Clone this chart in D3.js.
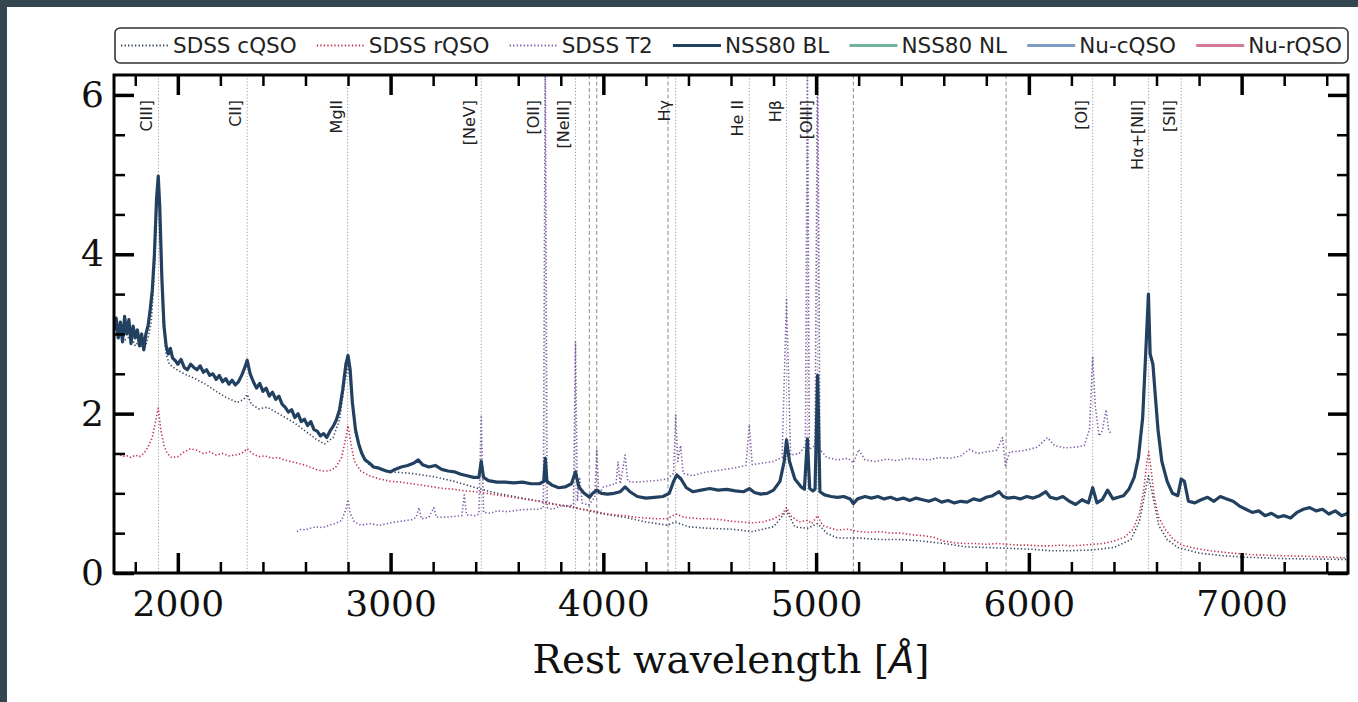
<!DOCTYPE html>
<html><head><meta charset="utf-8">
<script src="https://cdn.jsdelivr.net/npm/d3@7"></script>
<style>
html,body{margin:0;padding:0;background:#34464f;}
svg{display:block}
</style></head>
<body>
<svg id="chart" width="1358" height="702"></svg>
<script>
// ---------------- DATA ----------------
const xTickValues = [2000, 3000, 4000, 5000, 6000, 7000];
const yTickValues = [0, 2, 4, 6];
const xLabelParts = ["Rest wavelength [", "\u00C5", "]"];

const seriesNames = ["SDSS cQSO", "SDSS rQSO", "SDSS T2", "NSS80 BL", "NSS80 NL", "Nu-cQSO", "Nu-rQSO"];

// emission lines (dotted guides) and labels
const emissionWaves  = [1909, 2326, 2798, 3426, 3727, 3869, 4340, 4686, 4861, 4959, 5007, 6300, 6563, 6716];
const labelWaves     = [1909, 2326, 2798, 3426, 3727, 3869, 4340, 4686, 4861, 5007, 6300, 6563, 6716];
const labelTexts     = ["CIII]", "CII]", "MgII", "[NeV]", "[OII]", "[NeIII]", "H\u03B3", "He II", "H\u03B2", "[OIII]", "[OI]", "H\u03B1+[NII]", "[SII]"];
// absorption lines (dashed guides)
const absorptionWaves = [3934, 3969, 4304, 5175, 5893];

// SDSS cQSO composite
const sdssCQSO = [
[1700,2.95],[1720,3.02],[1750,2.92],[1780,2.98],[1800,2.85],[1820,2.92],[1840,2.78],[1860,2.95],[1875,3.15],[1890,3.80],[1900,4.50],[1908,4.90],[1918,4.30],[1930,3.20],[1945,2.75],[1960,2.62],[1990,2.56],
[2030,2.50],[2080,2.44],[2130,2.37],[2180,2.28],[2230,2.20],[2280,2.14],[2310,2.18],[2326,2.24],[2345,2.12],[2380,2.06],[2420,2.08],[2460,2.02],[2500,1.96],[2550,1.88],
[2600,1.78],[2650,1.68],[2690,1.62],[2730,1.70],[2760,1.92],[2785,2.40],[2800,2.62],[2815,2.30],[2835,1.75],[2860,1.50],[2890,1.38],[2930,1.32],[3000,1.27],
[3100,1.25],[3200,1.21],[3300,1.15],[3400,1.07],[3500,1.00],[3600,0.95],[3700,0.90],[3800,0.85],[3900,0.80],[4000,0.74],[4100,0.70],[4200,0.64],[4300,0.60],
[4340,0.64],[4400,0.58],[4500,0.56],[4600,0.55],[4700,0.52],[4800,0.58],[4861,0.78],[4900,0.58],[4959,0.56],[5007,0.62],[5050,0.50],[5100,0.44],[5200,0.44],
[5300,0.42],[5400,0.42],[5500,0.40],[5600,0.37],[5700,0.33],[5800,0.32],[5900,0.31],[6000,0.30],[6100,0.28],[6200,0.28],[6300,0.29],[6400,0.32],[6480,0.42],
[6520,0.65],[6545,1.00],[6562,1.22],[6580,1.00],[6610,0.60],[6650,0.42],[6700,0.32],[6800,0.25],[6900,0.22],[7000,0.20],[7200,0.18],[7500,0.17]
];

// SDSS rQSO composite
const sdssRQSO = [
[1700,1.48],[1720,1.50],[1740,1.46],[1760,1.47],[1780,1.45],[1800,1.48],[1820,1.46],[1840,1.50],[1860,1.58],[1880,1.70],[1895,1.90],[1908,2.07],[1920,1.80],
[1935,1.60],[1950,1.50],[1970,1.45],[2000,1.46],[2030,1.52],[2060,1.56],[2090,1.54],[2120,1.50],[2150,1.52],[2180,1.48],[2210,1.50],[2240,1.47],[2270,1.48],
[2300,1.50],[2326,1.56],[2350,1.50],[2380,1.46],[2410,1.47],[2440,1.44],[2470,1.45],[2500,1.42],[2530,1.40],[2560,1.38],[2590,1.36],[2620,1.33],[2650,1.30],
[2680,1.28],[2710,1.28],[2740,1.32],[2770,1.45],[2790,1.70],[2800,1.85],[2812,1.65],[2830,1.40],[2860,1.28],[2900,1.22],[2950,1.18],[3000,1.15],[3050,1.14],
[3100,1.12],[3150,1.10],[3200,1.08],[3250,1.06],[3300,1.05],[3350,1.03],[3400,1.02],[3450,1.00],[3500,0.98],[3550,0.96],[3600,0.94],[3650,0.92],[3700,0.90],
[3750,0.87],[3800,0.85],[3850,0.84],[3900,0.80],[3950,0.78],[4000,0.75],[4050,0.73],[4100,0.72],[4150,0.70],[4200,0.69],[4250,0.68],[4300,0.68],[4340,0.74],
[4380,0.70],[4420,0.69],[4460,0.68],[4500,0.68],[4550,0.67],[4600,0.65],[4650,0.64],[4700,0.63],[4750,0.64],[4800,0.68],[4840,0.74],[4861,0.82],[4880,0.72],
[4920,0.64],[4959,0.66],[4980,0.62],[5007,0.72],[5030,0.60],[5070,0.56],[5100,0.54],[5150,0.55],[5200,0.52],[5250,0.51],[5300,0.52],[5350,0.50],[5400,0.50],
[5450,0.48],[5500,0.47],[5550,0.45],[5600,0.40],[5650,0.38],[5700,0.37],[5750,0.37],[5800,0.36],[5850,0.37],[5900,0.36],[5950,0.35],[6000,0.35],[6050,0.34],
[6100,0.34],[6150,0.35],[6200,0.34],[6250,0.35],[6300,0.36],[6350,0.37],[6400,0.40],[6450,0.45],[6490,0.55],[6520,0.75],[6540,1.05],[6555,1.40],[6563,1.52],
[6572,1.35],[6590,0.95],[6610,0.70],[6640,0.55],[6680,0.42],[6720,0.35],[6780,0.31],[6850,0.28],[6950,0.25],[7050,0.23],[7150,0.22],[7300,0.21],[7400,0.20],[7500,0.19]
];

// SDSS Type-2 composite
const sdssT2 = [
[2560,0.52],[2580,0.55],[2600,0.54],[2620,0.56],[2650,0.58],[2680,0.57],[2710,0.60],[2740,0.62],[2770,0.66],[2790,0.80],[2800,0.92],[2810,0.75],[2830,0.64],
[2860,0.60],[2900,0.62],[2950,0.60],[3000,0.63],[3050,0.65],[3100,0.67],[3120,0.70],[3133,0.82],[3145,0.68],[3180,0.70],[3203,0.82],[3215,0.70],[3250,0.70],
[3300,0.71],[3335,0.72],[3346,0.98],[3357,0.73],[3400,0.72],[3415,0.74],[3426,1.98],[3437,0.76],[3470,0.75],[3500,0.78],[3550,0.77],[3600,0.79],[3650,0.80],
[3700,0.80],[3718,0.82],[3727,6.60],[3736,0.82],[3760,0.80],[3800,0.84],[3840,0.84],[3860,0.86],[3869,2.90],[3878,0.90],[3889,1.20],[3900,0.88],[3930,0.85],
[3960,0.95],[3969,1.55],[3978,0.98],[4000,1.08],[4030,1.10],[4060,1.12],[4069,1.40],[4080,1.12],[4102,1.48],[4115,1.15],[4150,1.14],[4200,1.15],[4250,1.16],
[4300,1.18],[4330,1.25],[4340,1.98],[4350,1.40],[4363,1.60],[4375,1.25],[4420,1.22],[4470,1.26],[4520,1.28],[4570,1.30],[4620,1.32],[4670,1.35],[4686,1.86],
[4700,1.36],[4750,1.38],[4800,1.40],[4840,1.45],[4861,3.45],[4880,1.48],[4920,1.50],[4950,1.60],[4959,6.60],[4968,1.55],[4995,1.60],[5007,6.60],[5018,1.55],
[5050,1.45],[5100,1.42],[5150,1.44],[5175,1.38],[5200,1.55],[5230,1.42],[5280,1.40],[5330,1.43],[5380,1.41],[5430,1.44],[5480,1.43],[5530,1.42],[5580,1.45],
[5630,1.44],[5680,1.47],[5720,1.55],[5760,1.50],[5800,1.52],[5850,1.54],[5876,1.70],[5890,1.35],[5910,1.52],[5960,1.53],[6000,1.55],[6040,1.58],[6087,1.70],
[6120,1.60],[6170,1.57],[6220,1.58],[6260,1.60],[6285,1.80],[6300,2.72],[6312,2.10],[6330,1.72],[6345,1.78],[6363,2.05],[6375,1.80],[6385,1.75]
];

// NSS80 broad-line composite
const nss80BL = [
[1700,3.05],[1710,3.20],[1720,2.95],[1730,3.15],[1740,2.90],[1750,3.22],[1760,3.00],[1770,3.18],[1780,2.88],[1790,3.10],[1800,2.95],[1810,3.05],[1820,2.85],
[1830,3.00],[1840,2.80],[1850,3.00],[1860,3.10],[1870,3.30],[1880,3.55],[1890,4.00],[1900,4.70],[1908,4.98],[1915,4.60],[1925,3.70],[1935,3.10],[1945,2.85],
[1955,2.75],[1965,2.82],[1975,2.70],[1990,2.66],[2000,2.62],[2015,2.68],[2030,2.58],[2045,2.55],[2060,2.62],[2075,2.58],[2090,2.55],[2105,2.60],[2120,2.52],
[2135,2.55],[2150,2.48],[2165,2.50],[2180,2.43],[2195,2.48],[2210,2.40],[2225,2.44],[2240,2.37],[2255,2.42],[2270,2.36],[2285,2.40],[2300,2.48],[2315,2.58],
[2326,2.67],[2340,2.50],[2355,2.40],[2370,2.32],[2385,2.38],[2400,2.28],[2415,2.32],[2430,2.22],[2445,2.27],[2460,2.18],[2475,2.22],[2490,2.12],[2505,2.08],
[2520,2.02],[2535,2.05],[2550,1.95],[2565,2.00],[2580,1.90],[2595,1.93],[2610,1.85],[2625,1.90],[2640,1.80],[2655,1.78],[2670,1.72],[2685,1.75],[2700,1.70],
[2715,1.78],[2730,1.84],[2745,1.92],[2760,2.05],[2775,2.30],[2790,2.62],[2800,2.73],[2810,2.55],[2820,2.15],[2835,1.80],[2850,1.62],[2865,1.50],[2880,1.42],
[2900,1.38],[2920,1.33],[2940,1.32],[2960,1.30],[2980,1.28],[3000,1.27],[3020,1.30],[3050,1.33],[3080,1.35],[3110,1.38],[3130,1.42],[3150,1.36],[3180,1.33],
[3210,1.35],[3240,1.30],[3270,1.28],[3300,1.27],[3330,1.24],[3360,1.22],[3390,1.20],[3415,1.20],[3426,1.40],[3437,1.20],[3460,1.16],[3500,1.14],[3540,1.14],
[3580,1.13],[3620,1.14],[3660,1.12],[3700,1.12],[3720,1.15],[3727,1.44],[3735,1.15],[3760,1.10],[3790,1.07],[3820,1.08],[3850,1.12],[3869,1.27],[3885,1.08],
[3910,1.00],[3935,0.95],[3950,1.00],[3969,1.04],[3990,1.00],[4020,0.99],[4050,1.00],[4080,1.02],[4102,1.08],[4125,1.02],[4160,0.96],[4200,0.94],[4240,0.95],
[4280,0.96],[4310,1.00],[4330,1.15],[4345,1.23],[4365,1.18],[4390,1.07],[4420,1.02],[4460,1.04],[4500,1.06],[4540,1.04],[4580,1.05],[4620,1.03],[4660,1.02],
[4686,1.06],[4710,1.01],[4740,0.99],[4770,1.00],[4800,1.04],[4830,1.15],[4850,1.40],[4861,1.67],[4875,1.40],[4900,1.18],[4930,1.08],[4945,1.05],[4959,1.68],
[4970,1.06],[4985,1.03],[4995,1.05],[5007,2.48],[5018,1.02],[5040,0.98],[5070,0.96],[5100,0.95],[5130,0.96],[5160,0.93],[5175,0.87],[5195,0.93],[5230,0.96],
[5260,0.94],[5290,0.96],[5320,0.93],[5350,0.95],[5380,0.92],[5410,0.94],[5440,0.91],[5470,0.94],[5500,0.92],[5530,0.90],[5560,0.93],[5590,0.89],[5620,0.91],
[5650,0.88],[5680,0.90],[5710,0.89],[5740,0.93],[5770,0.91],[5800,0.95],[5830,0.97],[5860,1.02],[5880,0.96],[5900,0.94],[5930,0.95],[5960,0.93],[5990,0.96],
[6020,0.94],[6050,0.97],[6080,1.02],[6100,0.95],[6130,0.93],[6160,0.96],[6190,0.90],[6220,0.86],[6250,0.92],[6280,0.88],[6300,1.07],[6320,0.88],[6345,0.92],
[6370,1.04],[6395,0.93],[6420,0.95],[6445,0.97],[6470,1.05],[6495,1.20],[6515,1.45],[6535,1.95],[6550,2.80],[6562,3.50],[6570,2.75],[6583,2.62],[6595,2.20],
[6607,1.80],[6625,1.40],[6650,1.15],[6675,1.00],[6700,0.97],[6716,1.18],[6731,1.15],[6750,0.90],[6780,0.88],[6810,0.92],[6840,0.95],[6870,0.90],[6900,0.96],
[6930,0.93],[6960,0.90],[6990,0.84],[7020,0.80],[7050,0.76],[7080,0.78],[7110,0.72],[7140,0.75],[7170,0.70],[7200,0.72],[7230,0.69],[7260,0.76],[7290,0.80],
[7320,0.82],[7350,0.78],[7380,0.80],[7410,0.74],[7440,0.78],[7470,0.72],[7500,0.75]
];

// series shown only in the legend (no points visible in the plotted range)
const nss80NL = [];
const nuCQSO = [];
const nuRQSO = [];

const seriesData = [sdssCQSO, sdssRQSO, sdssT2, nss80BL, nss80NL, nuCQSO, nuRQSO];

// ---------------- STYLE ----------------
const seriesColors = ["#34465f", "#c2304f", "#7d5aa6", "#22405f", "#6fb3a0", "#7f9cc4", "#d27a9b"];
const seriesDash   = ["1.3,2.2", "1.3,2.2", "1.3,2.2", null, null, null, null];
const seriesWidth  = [1.6, 1.6, 1.6, 3.2, 3.0, 3.0, 3.0];

const W = 1358, H = 702;
const m = {left: 114, right: 1348, top: 75, bottom: 573};

const svg = d3.select("#chart");
svg.append("rect").attr("x", 7).attr("y", 7).attr("width", W - 7).attr("height", H - 7).attr("fill", "#ffffff");

const x = d3.scaleLinear().domain([1700, 7500]).range([m.left, m.right]);
const y = d3.scaleLinear().domain([0, 6.25]).range([m.bottom, m.top]);

svg.append("clipPath").attr("id", "plotclip").append("rect")
  .attr("x", m.left).attr("y", m.top).attr("width", m.right - m.left).attr("height", m.bottom - m.top);

const plot = svg.append("g").attr("clip-path", "url(#plotclip)");

// guide lines
plot.selectAll("line.em").data(emissionWaves).join("line").attr("class", "em")
  .attr("x1", d => x(d)).attr("x2", d => x(d)).attr("y1", m.top).attr("y2", m.bottom)
  .attr("stroke", "#9a9a9a").attr("stroke-width", 1).attr("stroke-dasharray", "1.2,2");
plot.selectAll("line.ab").data(absorptionWaves).join("line").attr("class", "ab")
  .attr("x1", d => x(d)).attr("x2", d => x(d)).attr("y1", m.top).attr("y2", m.bottom)
  .attr("stroke", "#8a8a8a").attr("stroke-width", 1).attr("stroke-dasharray", "4,2.5");

// spectra
const line = d3.line().x(d => x(d[0])).y(d => y(d[1]));
seriesData.forEach((data, i) => {
  if (!data.length) return;
  const p = plot.append("path").datum(data).attr("d", line)
    .attr("fill", "none").attr("stroke", seriesColors[i]).attr("stroke-width", seriesWidth[i])
    .attr("stroke-linejoin", "round");
  if (seriesDash[i]) p.attr("stroke-dasharray", seriesDash[i]);
});

// line labels
svg.selectAll("text.lab").data(labelWaves).join("text").attr("class", "lab")
  .attr("transform", d => `translate(${x(d) - 6},100) rotate(-90)`)
  .attr("text-anchor", "end")
  .attr("font-family", "DejaVu Sans").attr("font-size", 16).attr("fill", "#222")
  .text((d, i) => labelTexts[i]);

// axes
const xMinor = d3.range(1800, 7500, 200).filter(v => v % 1000 !== 0);
const yMinor = d3.range(0.5, 6.25, 0.5).filter(v => v % 2 !== 0);

function styleAxis(g, w) {
  g.select(".domain").remove();
  g.selectAll(".tick line").attr("stroke", "#000").attr("stroke-width", w);
}
const tickFont = g => g.selectAll("text").attr("font-family", "DejaVu Serif").attr("font-size", 36).attr("fill", "#111");

svg.append("g").attr("transform", `translate(0,${m.bottom})`)
  .call(d3.axisBottom(x).tickValues(xTickValues).tickSize(-20).tickPadding(17).tickFormat(d3.format("d")))
  .call(g => styleAxis(g, 3.5)).call(tickFont);
svg.append("g").attr("transform", `translate(0,${m.bottom})`)
  .call(d3.axisBottom(x).tickValues(xMinor).tickSize(-11).tickFormat(""))
  .call(g => styleAxis(g, 2.5));
svg.append("g").attr("transform", `translate(0,${m.top})`)
  .call(d3.axisTop(x).tickValues(xTickValues).tickSize(-20).tickFormat(""))
  .call(g => styleAxis(g, 3.5));
svg.append("g").attr("transform", `translate(0,${m.top})`)
  .call(d3.axisTop(x).tickValues(xMinor).tickSize(-11).tickFormat(""))
  .call(g => styleAxis(g, 2.5));

svg.append("g").attr("transform", `translate(${m.left},0)`)
  .call(d3.axisLeft(y).tickValues(yTickValues).tickSize(-20).tickPadding(10).tickFormat(d3.format("d")))
  .call(g => styleAxis(g, 3.5)).call(tickFont);
svg.append("g").attr("transform", `translate(${m.left},0)`)
  .call(d3.axisLeft(y).tickValues(yMinor).tickSize(-11).tickFormat(""))
  .call(g => styleAxis(g, 2.5));
svg.append("g").attr("transform", `translate(${m.right},0)`)
  .call(d3.axisRight(y).tickValues(yTickValues).tickSize(-20).tickFormat(""))
  .call(g => styleAxis(g, 3.5));
svg.append("g").attr("transform", `translate(${m.right},0)`)
  .call(d3.axisRight(y).tickValues(yMinor).tickSize(-11).tickFormat(""))
  .call(g => styleAxis(g, 2.5));

// frame
svg.append("rect").attr("x", m.left).attr("y", m.top).attr("width", m.right - m.left).attr("height", m.bottom - m.top)
  .attr("fill", "none").attr("stroke", "#000").attr("stroke-width", 3);

// x label (Angstrom sign in italics, as in the original)
const xl = svg.append("text").attr("x", (m.left + m.right) / 2).attr("y", 673).attr("text-anchor", "middle")
  .attr("font-family", "DejaVu Serif").attr("font-size", 39).attr("fill", "#111");
xl.append("tspan").text(xLabelParts[0]);
xl.append("tspan").attr("font-family", "DejaVu Sans").attr("font-style", "italic").attr("font-size", 37).text(xLabelParts[1]);
xl.append("tspan").text(xLabelParts[2]);

// legend
const lg = svg.append("g");
const lgBox = {x: 115, y: 28, w: 1233, h: 35};
lg.append("rect").attr("x", lgBox.x).attr("y", lgBox.y).attr("width", lgBox.w).attr("height", lgBox.h)
  .attr("rx", 5).attr("fill", "#fff").attr("stroke", "#333").attr("stroke-width", 1.6);
const handleLen = 48, handleGap = 4;
const items = lg.selectAll("g.item").data(seriesNames).join("g").attr("class", "item");
items.append("text").text(d => d).attr("font-family", "DejaVu Sans").attr("font-size", 21.5).attr("fill", "#222")
  .attr("x", handleLen + handleGap).attr("y", 7.5);
items.append("line").attr("x1", 0).attr("x2", handleLen).attr("y1", 0).attr("y2", 0)
  .attr("stroke", (d, i) => seriesColors[i]).attr("stroke-width", (d, i) => seriesDash[i] ? 1.8 : 3)
  .attr("stroke-dasharray", (d, i) => seriesDash[i] || null);
const widths = [];
items.select("text").each(function () { widths.push(this.getComputedTextLength()); });
const totalItems = d3.sum(widths) + seriesNames.length * (handleLen + handleGap);
const innerL = lgBox.x + 6, innerR = lgBox.x + lgBox.w - 6;
const spacing = (innerR - innerL - totalItems) / (seriesNames.length - 1);
let cx = innerL;
items.each(function (d, i) {
  d3.select(this).attr("transform", `translate(${cx},${lgBox.y + lgBox.h / 2})`);
  cx += handleLen + handleGap + widths[i] + spacing;
});
</script>
</body></html>
